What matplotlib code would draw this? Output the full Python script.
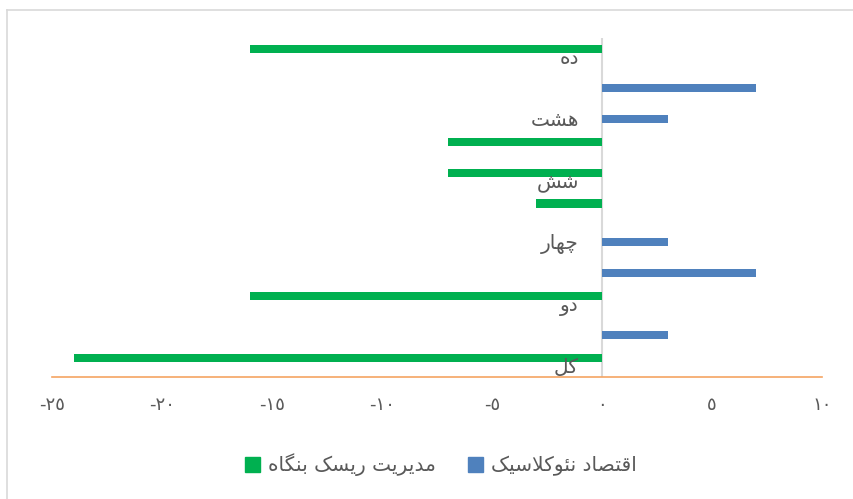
import unicodedata
import matplotlib
matplotlib.use("Agg")
import matplotlib.pyplot as plt
from matplotlib.patches import Patch
from matplotlib.lines import Line2D
from matplotlib.ticker import FuncFormatter, MultipleLocator
import matplotlib.transforms as mtransforms

# data (bottom to top)
categories = ['کل', 'یک', 'دو', 'سه', 'چهار', 'پنج', 'شش', 'هفت', 'هشت', 'نه', 'ده']
neoclassic = [0, 3, 0, 7, 3, 0, 0, 0, 3, 7, 0]
erm = [-24, 0, -16, 0, 0, -3, -7, -7, 0, 0, -16]
series_names = ['اقتصاد نئوکلاسیک', 'مدیریت ریسک بنگاه']

BLUE = '#4F81BD'
GREEN = '#00B050'
TEXT = '#595959'

# --- minimal Persian shaping (matplotlib has no bidi/shaping) ---
RIGHT_JOIN = set('اآأإدذرزژوؤة')


def _joins(ch):
    return '\u0620' <= ch <= '\u06ff' and unicodedata.category(ch) == 'Lo'


def _form(ch, form):
    try:
        return unicodedata.lookup(unicodedata.name(ch) + ' ' + form + ' FORM')
    except KeyError:
        return ch


def fa(text):
    out = []
    i = 0
    n = len(text)
    while i < n:
        ch = text[i]
        if not _joins(ch):
            out.append(ch)
            i += 1
            continue
        prev = text[i - 1] if i > 0 else ' '
        link_prev = _joins(prev) and prev not in RIGHT_JOIN
        if ch == 'ل' and i + 1 < n and text[i + 1] == 'ا':
            kind = 'FINAL' if link_prev else 'ISOLATED'
            out.append(unicodedata.lookup('ARABIC LIGATURE LAM WITH ALEF ' + kind + ' FORM'))
            i += 2
            continue
        nxt = text[i + 1] if i + 1 < n else ' '
        link_next = ch not in RIGHT_JOIN and _joins(nxt)
        form = {(True, True): 'MEDIAL', (True, False): 'FINAL',
                (False, True): 'INITIAL', (False, False): 'ISOLATED'}[(link_prev, link_next)]
        out.append(_form(ch, form))
        i += 1
    return ''.join(reversed(out))


DIGITS = str.maketrans('0123456789', '٠١٢٣٤٥٦٧٨٩')


def ar_num(v, pos=None):
    v = int(round(v))
    s = str(abs(v)).translate(DIGITS)
    return ('-' + s) if v < 0 else s


plt.rcParams['font.family'] = ['DejaVu Sans']

fig = plt.figure(figsize=(8.54, 4.99), dpi=100)
ax = fig.add_axes([52 / 854, 122 / 499, 770 / 854, 339 / 499])

pos = list(range(len(categories)))
h = 0.26
ax.barh([p - h / 2 for p in pos], neoclassic, height=h, color=BLUE, zorder=2)
ax.barh([p + h / 2 for p in pos], erm, height=h, color=GREEN, zorder=2)

ax.set_xlim(-25, 10)
ax.set_ylim(-0.5, len(categories) - 0.5)
ax.axvline(0, color='#D9D9D9', lw=1.5, zorder=1)

for s in ['top', 'right', 'left']:
    ax.spines[s].set_visible(False)
ax.spines['bottom'].set_color('#F5A462')
ax.spines['bottom'].set_linewidth(1.2)

ax.xaxis.set_major_locator(MultipleLocator(5))
ax.xaxis.set_major_formatter(FuncFormatter(ar_num))
ax.tick_params(axis='x', length=0, pad=14, labelsize=13, labelcolor=TEXT)
ax.set_yticks([])

# category labels every other slot, left of the zero line
off = mtransforms.offset_copy(ax.transData, fig=fig, x=-23, y=-11, units='dots')
for p, name in zip(pos, categories):
    if p % 2 == 0:
        ax.text(0, p, fa(name), transform=off, ha='right', va='baseline',
                fontsize=14.5, color=TEXT)

handles = [Patch(color=GREEN), Patch(color=BLUE)]
fig.legend(handles, [fa(series_names[1]), fa(series_names[0])], ncol=2,
           loc='center', bbox_to_anchor=(441 / 854, 34 / 499), frameon=False,
           fontsize=14.5, labelcolor=TEXT, handlelength=0.75, handleheight=0.75,
           handletextpad=0.4, columnspacing=1.6)

# chart area border (only top and left edges fall inside the picture)
fig.add_artist(Line2D([7.5 / 854, 1], [1 - 9.5 / 499] * 2, transform=fig.transFigure,
                      color='#D9D9D9', lw=1.2))
fig.add_artist(Line2D([7.5 / 854] * 2, [0, 1 - 9.5 / 499], transform=fig.transFigure,
                      color='#D9D9D9', lw=1.2))

fig.savefig('out.png', dpi=100)
